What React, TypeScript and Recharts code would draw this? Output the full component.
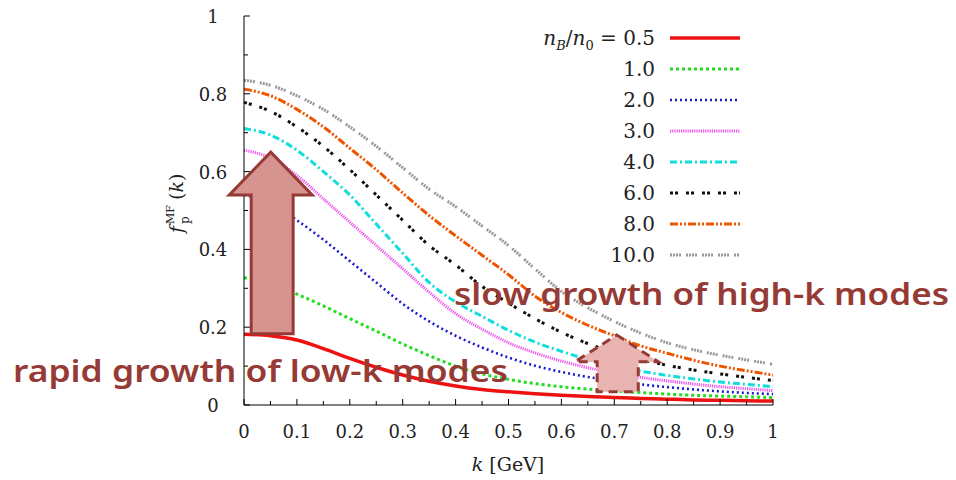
import React from 'react';
import { LineChart, Line, XAxis, YAxis, ReferenceArea } from 'recharts';

// ---- data ----
const kValues = [0, 0.05, 0.1, 0.15, 0.2, 0.25, 0.3, 0.35, 0.4, 0.45, 0.5, 0.55, 0.6, 0.65, 0.7, 0.75, 0.8, 0.85, 0.9, 0.95, 1.0];

const f05 = [0.182, 0.178, 0.167, 0.145, 0.12, 0.097, 0.077, 0.061, 0.049, 0.04, 0.034, 0.029, 0.025, 0.022, 0.019, 0.017, 0.015, 0.013, 0.012, 0.011, 0.01];
const f10 = [0.327, 0.313, 0.285, 0.255, 0.222, 0.19, 0.157, 0.127, 0.1, 0.08, 0.066, 0.055, 0.047, 0.041, 0.036, 0.032, 0.028, 0.025, 0.023, 0.021, 0.019];
const f20 = [0.54, 0.52, 0.475, 0.425, 0.37, 0.315, 0.26, 0.215, 0.178, 0.148, 0.122, 0.101, 0.085, 0.072, 0.062, 0.053, 0.046, 0.04, 0.035, 0.031, 0.028];
const f30 = [0.655, 0.635, 0.59, 0.53, 0.47, 0.41, 0.35, 0.29, 0.235, 0.195, 0.16, 0.134, 0.113, 0.096, 0.082, 0.071, 0.062, 0.054, 0.047, 0.042, 0.037];
const f40 = [0.711, 0.694, 0.655, 0.6, 0.54, 0.465, 0.39, 0.315, 0.265, 0.228, 0.192, 0.162, 0.138, 0.117, 0.1, 0.087, 0.076, 0.067, 0.059, 0.053, 0.047];
const f60 = [0.778, 0.755, 0.715, 0.665, 0.605, 0.54, 0.475, 0.41, 0.36, 0.305, 0.262, 0.222, 0.187, 0.158, 0.135, 0.117, 0.102, 0.09, 0.08, 0.071, 0.063];
const f80 = [0.812, 0.795, 0.76, 0.715, 0.66, 0.605, 0.545, 0.487, 0.435, 0.385, 0.335, 0.28, 0.238, 0.205, 0.178, 0.152, 0.133, 0.115, 0.1, 0.088, 0.077];
const f100 = [0.835, 0.822, 0.795, 0.76, 0.715, 0.665, 0.61, 0.555, 0.51, 0.46, 0.41, 0.35, 0.292, 0.25, 0.215, 0.185, 0.16, 0.142, 0.128, 0.116, 0.105];

const legendLabels = ['0.5', '1.0', '2.0', '3.0', '4.0', '6.0', '8.0', '10.0'];
const xTicks = [0, 0.05, 0.1, 0.15, 0.2, 0.25, 0.3, 0.35, 0.4, 0.45, 0.5, 0.55, 0.6, 0.65, 0.7, 0.75, 0.8, 0.85, 0.9, 0.95, 1];
const xTickLabels = ['0', '', '0.1', '', '0.2', '', '0.3', '', '0.4', '', '0.5', '', '0.6', '', '0.7', '', '0.8', '', '0.9', '', '1'];
const yTicks = [0, 0.1, 0.2, 0.3, 0.4, 0.5, 0.6, 0.7, 0.8, 0.9, 1];
const yTickLabels = ['0', '', '0.2', '', '0.4', '', '0.6', '', '0.8', '', '1'];

const annotationLow = 'rapid growth of low-k modes';
const annotationHigh = 'slow growth of high-k modes';
// arrow boxes in data coordinates [k1, k2, f1, f2]
const arrowLow = [-0.028, 0.129, 0.183, 0.65];
const arrowHigh = [0.626, 0.783, 0.034, 0.18];

const seriesValues = [f05, f10, f20, f30, f40, f60, f80, f100];
const seriesKeys = ['f05', 'f10', 'f20', 'f30', 'f40', 'f60', 'f80', 'f100'];
const seriesStyles = [
  { color: '#ee1111', width: 3.5, dash: undefined as string | undefined },
  { color: '#22dd22', width: 3, dash: '3 3' },
  { color: '#1a1acc', width: 2.6, dash: '2 3' },
  { color: '#ee55ee', width: 3, dash: '1.2 1' },
  { color: '#11dddd', width: 3, dash: '7 3 2 3' },
  { color: '#111111', width: 3, dash: '3 2 3 8' },
  { color: '#ee5500', width: 3, dash: '8 2 2 2 2 2' },
  { color: '#999999', width: 3, dash: '2 1 2 1 2 1 2 5' },
];

const data = kValues.map((k, i) => {
  const row: Record<string, number> = { k };
  seriesKeys.forEach((key, s) => {
    row[key] = seriesValues[s][i];
  });
  return row;
});

const SERIF = '"DejaVu Serif", "Liberation Serif", serif';
const SANS = '"Noto Sans", "Open Sans", sans-serif';
const ANNOT = '#963a35';

const BottomTick = (props: any) => {
  const { x, y, index } = props;
  const label = xTickLabels[index] || '';
  const len = label ? 6 : 4;
  return (
    <g>
      <line x1={x} y1={y} x2={x} y2={y - len} stroke="#000" strokeWidth={1} />
      {label && (
        <text x={x} y={y + 33} textAnchor="middle" fontSize={18} fontFamily={SERIF} fill="#222">
          {label}
        </text>
      )}
    </g>
  );
};

const TopTick = (props: any) => {
  const { x, y, index } = props;
  const len = xTickLabels[index] ? 6 : 4;
  return <line x1={x} y1={y} x2={x} y2={y + len} stroke="#000" strokeWidth={1} />;
};

const LeftTick = (props: any) => {
  const { x, y, index } = props;
  const label = yTickLabels[index] || '';
  const len = label ? 6 : 4;
  return (
    <g>
      <line x1={x} y1={y} x2={x + len} y2={y} stroke="#000" strokeWidth={1} />
      {label && (
        <text x={x - 31} y={y + 7} textAnchor="middle" fontSize={18} fontFamily={SERIF} fill="#222">
          {label}
        </text>
      )}
    </g>
  );
};

const RightTick = (props: any) => {
  const { x, y, index } = props;
  const len = yTickLabels[index] ? 6 : 4;
  return <line x1={x} y1={y} x2={x - len} y2={y} stroke="#000" strokeWidth={1} />;
};

const makeArrow = (bodyL: number, bodyR: number, headFrac: number, fill: string, dashed: boolean) => (props: any) => {
  const { x, y, width, height } = props;
  const cx = x + width / 2;
  const baseY = y + height * headFrac;
  const bottom = y + height;
  const pts = [
    [cx, y],
    [x + width, baseY],
    [x + width * bodyR, baseY],
    [x + width * bodyR, bottom],
    [x + width * bodyL, bottom],
    [x + width * bodyL, baseY],
    [x, baseY],
  ]
    .map((p) => p.join(','))
    .join(' ');
  return (
    <polygon
      points={pts}
      fill={fill}
      stroke={ANNOT}
      strokeWidth={3}
      strokeDasharray={dashed ? '9 6' : undefined}
      strokeLinejoin="miter"
    />
  );
};

const ArrowLowShape = makeArrow(0.265, 0.77, 0.236, '#d69390', false);
const ArrowHighShape = makeArrow(0.265, 0.76, 0.47, '#e8b3b0', true);

export default function App() {
  return (
    <div style={{ position: 'absolute', left: 0, top: 0, width: 956, height: 480, background: '#fff' }}>
      <LineChart
        width={956}
        height={480}
        data={data}
        margin={{ top: 16, right: 183, bottom: 45, left: 184 }}
      >
        <XAxis
          dataKey="k"
          type="number"
          domain={[0, 1]}
          ticks={xTicks}
          interval={0}
          height={30}
          tickSize={0}
          tickMargin={0}
          tickLine={false}
          tick={<BottomTick />}
          axisLine={{ stroke: '#000', strokeWidth: 1 }}
        />
        <XAxis
          xAxisId="top"
          orientation="top"
          dataKey="k"
          type="number"
          domain={[0, 1]}
          ticks={xTicks}
          interval={0}
          height={0}
          tickSize={0}
          tickMargin={0}
          tickLine={false}
          tick={<TopTick />}
          axisLine={{ stroke: '#000', strokeWidth: 1 }}
        />
        <YAxis
          type="number"
          domain={[0, 1]}
          ticks={yTicks}
          interval={0}
          width={60}
          tickSize={0}
          tickMargin={0}
          tickLine={false}
          tick={<LeftTick />}
          axisLine={{ stroke: '#000', strokeWidth: 1 }}
        />
        <YAxis
          yAxisId="right"
          orientation="right"
          type="number"
          domain={[0, 1]}
          ticks={yTicks}
          interval={0}
          width={0}
          tickSize={0}
          tickMargin={0}
          tickLine={false}
          tick={<RightTick />}
          axisLine={{ stroke: '#000', strokeWidth: 1 }}
        />
        {seriesKeys.map((key, s) => (
          <Line
            key={key}
            dataKey={key}
            type="monotone"
            stroke={seriesStyles[s].color}
            strokeWidth={seriesStyles[s].width}
            strokeDasharray={seriesStyles[s].dash}
            dot={false}
            activeDot={false}
            isAnimationActive={false}
          />
        ))}
        <ReferenceArea
          x1={arrowLow[0]}
          x2={arrowLow[1]}
          y1={arrowLow[2]}
          y2={arrowLow[3]}
          ifOverflow="visible"
          shape={ArrowLowShape}
          {...({ zIndex: 2000 } as any)}
        />
        <ReferenceArea
          x1={arrowHigh[0]}
          x2={arrowHigh[1]}
          y1={arrowHigh[2]}
          y2={arrowHigh[3]}
          ifOverflow="visible"
          shape={ArrowHighShape}
          {...({ zIndex: 2000 } as any)}
        />
      </LineChart>
      <svg
        width={956}
        height={480}
        style={{ position: 'absolute', left: 0, top: 0, pointerEvents: 'none' }}
      >
        {/* legend */}
        {legendLabels.map((lab, i) => {
          const y = 38 + i * 31;
          const st = seriesStyles[i];
          return (
            <g key={lab}>
              <text x={655} y={y + 7} textAnchor="end" fontSize={20} fontFamily={SERIF} fill="#222">
                {i === 0 ? (
                  <>
                    <tspan fontStyle="italic">n</tspan>
                    <tspan fontSize={13} fontStyle="italic" dy={5}>B</tspan>
                    <tspan dy={-5}>/</tspan>
                    <tspan fontStyle="italic">n</tspan>
                    <tspan fontSize={13} dy={5}>0</tspan>
                    <tspan dy={-5}>{' = ' + lab}</tspan>
                  </>
                ) : (
                  lab
                )}
              </text>
              <line x1={670} y1={y} x2={740} y2={y} stroke={st.color} strokeWidth={st.width} strokeDasharray={st.dash} />
            </g>
          );
        })}
        {/* axis labels */}
        <text x={508} y={471} textAnchor="middle" fontSize={19} fontFamily={SERIF} fill="#222">
          <tspan fontStyle="italic">k</tspan>
          <tspan> [GeV]</tspan>
        </text>
        <text transform="translate(183,203) rotate(-90)" fontSize={19} fontFamily={SERIF} fill="#222">
          <tspan x={-30} y={0} fontStyle="italic">f</tspan>
          <tspan x={-21} y={6} fontSize={12}>p</tspan>
          <tspan x={-21} y={-9} fontSize={11}>MF</tspan>
          <tspan x={3} y={0}>(</tspan>
          <tspan fontStyle="italic">k</tspan>
          <tspan>)</tspan>
        </text>
        {/* annotations */}
        <text x={13} y={382} fontSize={31} fontWeight={600} fontFamily={SANS} fill={ANNOT} textLength={495} lengthAdjust="spacingAndGlyphs">
          {annotationLow}
        </text>
        <text x={454} y={305} fontSize={31} fontWeight={600} fontFamily={SANS} fill={ANNOT} textLength={495} lengthAdjust="spacingAndGlyphs">
          {annotationHigh}
        </text>
      </svg>
    </div>
  );
}
